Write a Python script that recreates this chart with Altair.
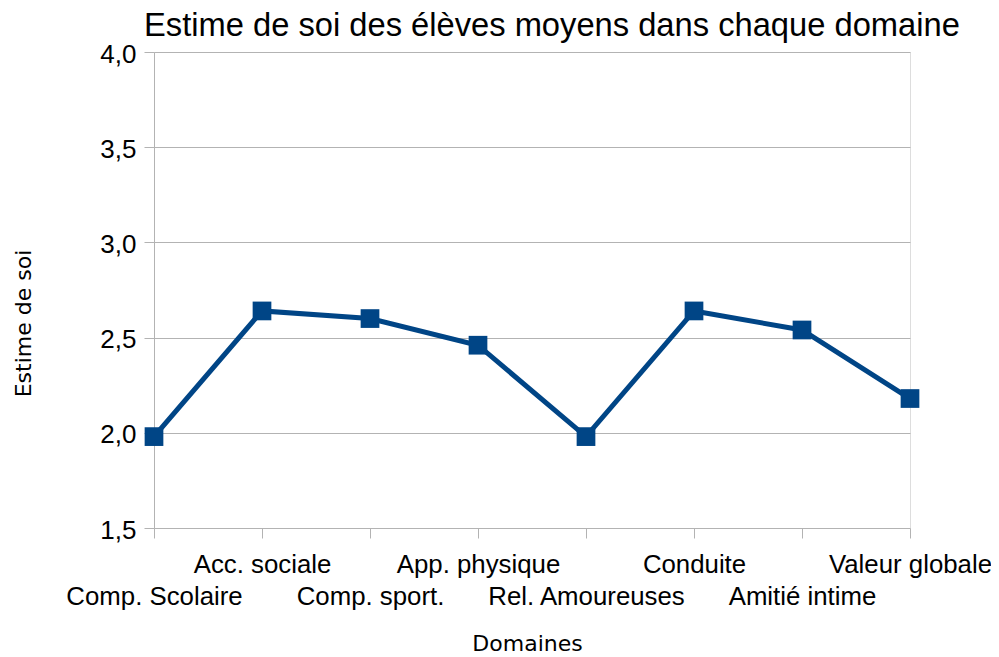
import altair as alt
import pandas as pd

categories = ["Comp. Scolaire", "Acc. sociale", "Comp. sport.", "App. physique",
              "Rel. Amoureuses", "Conduite", "Amitié intime", "Valeur globale"]
values = [1.98, 2.64, 2.60, 2.46, 1.98, 2.64, 2.54, 2.18]
y_ticks = [1.5, 2.0, 2.5, 3.0, 3.5, 4.0]

df = pd.DataFrame({"idx": list(range(len(categories))), "cat": categories, "val": values})

arr = "[" + ",".join("'" + c.replace("'", "\\'") + "'" for c in categories) + "]"
label_expr = f"datum.value % 2 == 0 ? ['', {arr}[datum.value]] : {arr}[datum.value]"

color = "#004586"
grid = "#b3b3b3"

x = alt.X("idx:Q",
          scale=alt.Scale(domain=[0, len(categories) - 1], nice=False, zero=False),
          axis=alt.Axis(values=list(range(len(categories))), labelExpr=label_expr,
                        title="Domaines", grid=False, domain=False,
                        tickSize=10, tickColor=grid, labelPadding=14,
                        labelFont="Liberation Sans", labelFontSize=25.8, labelColor="black",
                        labelLineHeight=32, labelOverlap=False, labelFlush=False,
                        labelLimit=0,
                        labelBaseline="top", labelAlign="center",
                        titleFont="DejaVu Sans", titleFontSize=22, titleFontWeight="normal",
                        titleColor="black", titleX=373, titleY=122,
                        titleBaseline="alphabetic", titleAnchor="start", titleAlign="center"))
y = alt.Y("val:Q",
          scale=alt.Scale(domain=[1.5, 4.0], nice=False, zero=False),
          axis=alt.Axis(values=y_ticks,
                        labelExpr="replace(format(datum.value, '.1f'), '.', ',')",
                        title="Estime de soi", grid=True, gridColor=grid, domain=True,
                        domainColor=grid, tickSize=10, tickColor=grid, labelPadding=8,
                        labelFont="Liberation Sans", labelFontSize=26, labelColor="black",
                        labelOffset=2, labelFlush=False, labelOverlap=False,
                        titleFont="DejaVu Sans", titleFontSize=22, titleFontWeight="normal",
                        titleColor="black", titleX=-124, titleY=271, titleAngle=270,
                        titleBaseline="alphabetic", titleAlign="center"))

base = alt.Chart(df)
line = base.mark_line(color=color, strokeWidth=5).encode(x=x, y=y)
pts = base.mark_point(shape="square", filled=True, opacity=1, color=color, size=350).encode(x=x, y=y)

chart = alt.layer(line, pts).properties(
    width=756, height=476,
    title=alt.TitleParams("Estime de soi des élèves moyens dans chaque domaine",
                          font="Liberation Sans", fontSize=32.7, fontWeight="normal",
                          color="black", anchor="start", frame="group", dx=-10, dy=28,
                          offset=0, baseline="alphabetic"),
    autosize=alt.AutoSizeParams(type="none"),
    padding={"left": 146, "top": 44, "right": 81, "bottom": 130},
).configure_view(stroke=grid, strokeWidth=1).configure(background="white")

chart.save("out.html", embed_options={"renderer": "svg", "actions": False})
